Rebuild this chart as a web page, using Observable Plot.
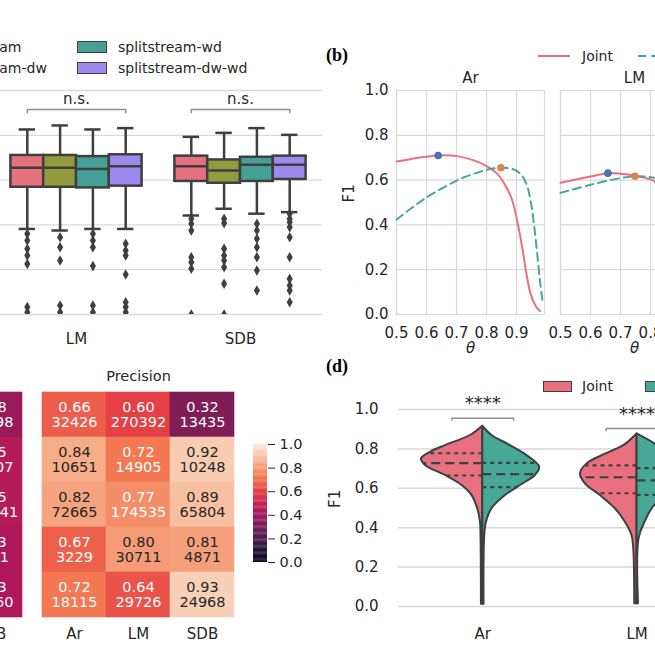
<!DOCTYPE html>
<html><head><meta charset="utf-8">
<script src="https://cdn.jsdelivr.net/npm/d3@7"></script>
<script src="https://cdn.jsdelivr.net/npm/@observablehq/plot@0.6"></script>
<style>
body{margin:0;background:#fff}
#fig{position:relative;width:655px;height:655px;overflow:hidden;background:#fff;font-family:'DejaVu Sans',sans-serif;color:#262626}
.abs{position:absolute}
.lbl{position:absolute;white-space:nowrap;font-size:14px;line-height:16px;color:#262626}
.panel{position:absolute;font-family:'Liberation Serif',serif;font-weight:bold;font-size:18px;line-height:20px;color:#000}
.sw{position:absolute;box-sizing:border-box;border:1.5px solid #3f3f3f}
</style></head><body><div id="fig"></div>
<script>
// ================= DATA =================
// (a) box plots
const boxGroups = ["Ar", "LM", "SDB"];
const methods = ["splitstream", "splitstream-dw", "splitstream-wd", "splitstream-dw-wd"];
const methodColors = ["#e5717f", "#939c3d", "#45a196", "#9e8aee"];
// [lower whisker, Q1, median, Q3, upper whisker]
const boxStatsLM = [
  [0.382, 0.568, 0.655, 0.710, 0.826],
  [0.375, 0.568, 0.655, 0.710, 0.844],
  [0.382, 0.565, 0.650, 0.705, 0.826],
  [0.382, 0.573, 0.662, 0.713, 0.832]];
const boxStatsSDB = [
  [0.442, 0.594, 0.662, 0.707, 0.793],
  [0.472, 0.586, 0.643, 0.690, 0.811],
  [0.450, 0.594, 0.668, 0.702, 0.832],
  [0.457, 0.603, 0.668, 0.707, 0.802]];
const outliersLM = [
  [0.360, 0.330, 0.293, 0.263, 0.226, 0.033, 0.010],
  [0.345, 0.300, 0.241, 0.040, 0.010],
  [0.360, 0.330, 0.300, 0.216, 0.040, 0.010],
  [0.316, 0.286, 0.263, 0.179, 0.055, 0.033, 0.010]];
const outliersSDB = [
  [0.427, 0.405, 0.375, 0.256, 0.233, 0.204, 0.0],
  [0.427, 0.408, 0.293, 0.263, 0.241, 0.211, 0.137, 0.0],
  [0.405, 0.375, 0.338, 0.300, 0.256, 0.196, 0.107],
  [0.450, 0.427, 0.412, 0.390, 0.345, 0.256, 0.159, 0.129, 0.107, 0.055]];
const boxSignif = ["n.s.", "n.s."];
const f1Ticks = [0, 0.2, 0.4, 0.6, 0.8, 1.0];

// (b) F1 vs theta
const lineSeries = ["Joint", "Separate"];
const thetaTicks = [0.5, 0.6, 0.7, 0.8, 0.9];
const thetaJointAr = [0.5, 0.569, 0.639, 0.702, 0.758, 0.802, 0.836, 0.863, 0.886, 0.902, 0.919, 0.933, 0.947, 0.963, 0.978];
const f1JointAr    = [0.683, 0.699, 0.710, 0.707, 0.688, 0.661, 0.628, 0.576, 0.509, 0.420, 0.300, 0.182, 0.092, 0.040, 0.015];
const thetaSepAr   = [0.5, 0.547, 0.602, 0.658, 0.713, 0.769, 0.813, 0.847, 0.886, 0.913, 0.933, 0.947, 0.958, 0.969, 0.978, 0.986];
const f1SepAr      = [0.423, 0.472, 0.524, 0.568, 0.606, 0.633, 0.650, 0.655, 0.650, 0.628, 0.583, 0.509, 0.405, 0.271, 0.152, 0.066];
const thetaJointLM = [0.5, 0.6, 0.658, 0.7, 0.748, 0.8, 0.817];
const f1JointLM    = [0.588, 0.616, 0.631, 0.628, 0.619, 0.603, 0.590];
const thetaSepLM   = [0.5, 0.6, 0.7, 0.748, 0.8, 0.817];
const f1SepLM      = [0.543, 0.579, 0.609, 0.617, 0.613, 0.609];
// best points [theta, F1]
const bestJointAr = [0.639, 0.710], bestSepAr = [0.848, 0.655];
const bestJointLM = [0.658, 0.631], bestSepLM = [0.748, 0.617];

// (c) heatmaps
const heatCols = ["Ar", "LM", "SDB"];
const heatRows = ["r1", "r2", "r3", "r4", "r5"];
const precisionVals = [[0.66, 0.60, 0.32], [0.84, 0.72, 0.92], [0.82, 0.77, 0.89], [0.67, 0.80, 0.81], [0.72, 0.64, 0.93]];
const precisionCounts = [[32426, 270392, 13435], [10651, 14905, 10248], [72665, 174535, 65804], [3229, 30711, 4871], [18115, 29726, 24968]];
const recallSDBVals = [0.38, 0.45, 0.45, 0.43, 0.43];
const recallSDBCounts = [21598, 20107, 100341, 5121, 26460];
const colorbarTicks = [0, 0.2, 0.4, 0.6, 0.8, 1.0];
const rocketStops = ["#03051a", "#35193e", "#701f57", "#ad1759", "#e13342", "#f37651", "#f6b48f", "#faebdd"];

// (d) split violins: [F1, relative half-width]
const violinCats = ["Ar", "LM", "SDB"];
const violinJointAr = [[0.915,0],[0.868,0.199],[0.817,0.604],[0.783,0.846],[0.750,0.992],[0.716,0.927],[0.665,0.604],[0.614,0.335],[0.563,0.173],[0.496,0.081],[0.428,0.037],[0.36,0.028],[0.012,0.021]];
const violinSepAr   = [[0.915,0],[0.868,0.150],[0.817,0.448],[0.766,0.717],[0.707,0.922],[0.665,0.853],[0.614,0.610],[0.563,0.367],[0.496,0.150],[0.428,0.060],[0.36,0.032],[0.012,0.021]];
const violinJointLM = [[0.876,0],[0.817,0.215],[0.766,0.566],[0.724,0.809],[0.673,0.917],[0.623,0.837],[0.563,0.594],[0.496,0.351],[0.428,0.189],[0.36,0.081],[0.293,0.053],[0.014,0.037]];
const violinSepLM   = [[0.876,0],[0.826,0.29],[0.77,0.58],[0.70,0.84],[0.64,0.89],[0.58,0.68],[0.513,0.29],[0.428,0.13],[0.343,0.032],[0.014,0.024]];
// [Q1, median, Q3]
const quartJointAr = [0.665, 0.728, 0.778], quartSepAr = [0.606, 0.672, 0.729];
const quartJointLM = [0.575, 0.656, 0.716], quartSepLM = [0.567, 0.640, 0.702];
const violinSignif = ["****", "****"];

// ================= RENDER =================
const fig = document.getElementById("fig");
const INK = "#262626", EDGE = "#3f3f3f", GRID = "#d9d9d9";
const PINK = "#e8707f", TEAL = "#47a898";
const STYLE = "background:transparent;max-width:none;overflow:visible;font-family:'DejaVu Sans',sans-serif;font-size:15px;color:#262626";

function mount(node, left, top) {
  const d = document.createElement("div");
  d.className = "abs"; d.style.left = left + "px"; d.style.top = top + "px";
  d.appendChild(node); fig.appendChild(d);
}
function label(txt, x, yc, cls = "lbl") {
  const d = document.createElement("div");
  d.className = cls; d.textContent = txt;
  d.style.left = x + "px"; d.style.top = (yc - (cls === "panel" ? 10 : 8)) + "px";
  fig.appendChild(d);
}
function swatch(x, y, w, h, color) {
  const d = document.createElement("div");
  d.className = "sw"; Object.assign(d.style, {left: x + "px", top: y + "px", width: w + "px", height: h + "px", background: color});
  fig.appendChild(d);
}
function lineSwatch(x, yc, color, dash) {
  const svg = d3.create("svg").attr("width", 34).attr("height", 6).style("position", "absolute")
    .style("left", x + "px").style("top", (yc - 3) + "px");
  svg.append("line").attr("x1", 1).attr("x2", 33).attr("y1", 3).attr("y2", 3)
    .attr("stroke", color).attr("stroke-width", 2).attr("stroke-dasharray", dash || null);
  fig.appendChild(svg.node());
}

// ---------- (a) box plots ----------
{
  const offsets = [-0.3, -0.1, 0.1, 0.3];
  const sets = [{g: 1, stats: boxStatsLM, outs: outliersLM}, {g: 2, stats: boxStatsSDB, outs: outliersSDB}];
  const boxes = [], outs = [], brackets = [], sig = [];
  sets.forEach((s, k) => {
    s.stats.forEach((st, m) => {
      const x = s.g + offsets[m];
      boxes.push({x, method: methods[m], lo: st[0], q1: st[1], med: st[2], q3: st[3], hi: st[4]});
      s.outs[m].forEach(v => outs.push({x, y: v}));
    });
    const xa = s.g + offsets[0], xb = s.g + offsets[3];
    brackets.push({g: k, x: xa, y: 0.902}, {g: k, x: xa, y: 0.915}, {g: k, x: xb, y: 0.915}, {g: k, x: xb, y: 0.902});
    sig.push({x: s.g, y: 0.962, t: boxSignif[k]});
  });
  const plot = Plot.plot({
    width: 552, height: 294, marginLeft: 50, marginRight: 10, marginTop: 30, marginBottom: 40,
    style: STYLE,
    x: {domain: [-0.5, 2.5]}, y: {domain: [0, 1]},
    color: {domain: methods, range: methodColors},
    marks: [
      Plot.ruleY(f1Ticks, {stroke: GRID, strokeWidth: 1.3}),
      Plot.ruleX(boxes, {x: "x", y1: "lo", y2: "q1", stroke: EDGE, strokeWidth: 2.5}),
      Plot.ruleX(boxes, {x: "x", y1: "q3", y2: "hi", stroke: EDGE, strokeWidth: 2.5}),
      Plot.ruleY(boxes, {y: "hi", x1: d => d.x - 0.05, x2: d => d.x + 0.05, stroke: EDGE, strokeWidth: 2.5}),
      Plot.ruleY(boxes, {y: "lo", x1: d => d.x - 0.05, x2: d => d.x + 0.05, stroke: EDGE, strokeWidth: 2.5}),
      Plot.rect(boxes, {x1: d => d.x - 0.1, x2: d => d.x + 0.1, y1: "q1", y2: "q3", fill: "method", stroke: EDGE, strokeWidth: 2.5}),
      Plot.ruleY(boxes, {y: "med", x1: d => d.x - 0.1, x2: d => d.x + 0.1, stroke: EDGE, strokeWidth: 2.5}),
      Plot.dot(outs, {x: "x", y: "y", symbol: "diamond", r: 3.2, fill: EDGE, stroke: "none", clip: true}),
      Plot.line(brackets, {x: "x", y: "y", z: "g", stroke: "#8f8f8f", strokeWidth: 1.5}),
      Plot.text(sig, {x: "x", y: "y", text: "t", fontSize: 15}),
      Plot.axisX({ticks: [0, 1, 2], tickFormat: i => boxGroups[i], tickSize: 0, tickPadding: 19, label: null}),
      Plot.axisY({ticks: f1Ticks, tickFormat: ".1f", tickSize: 0, tickPadding: 8, label: null})
    ]
  });
  mount(plot, -220, 60);
  // legend (2 x 2)
  const lx = [-98, 77], ly = [47, 68];
  methods.forEach((m, i) => {
    const c = Math.floor(i / 2), r = i % 2;
    swatch(lx[c], ly[r] - 6, 30, 12, methodColors[i]);
    label(m, lx[c] + 41, ly[r]);
  });
}

// ---------- (b) F1 vs theta ----------
function thetaPanel(name, tj, fj, ts, fs, bj, bs, showY, marginLeft, width) {
  const joint = tj.map((t, i) => ({t, f: fj[i]}));
  const sep = ts.map((t, i) => ({t, f: fs[i]}));
  const marks = [
    Plot.ruleX(thetaTicks, {stroke: GRID, strokeWidth: 1.2}),
    Plot.ruleY(f1Ticks, {stroke: GRID, strokeWidth: 1.2}),
    Plot.frame({stroke: GRID, strokeWidth: 1.2}),
    Plot.line(joint, {x: "t", y: "f", stroke: PINK, strokeWidth: 2, curve: "catmull-rom"}),
    Plot.line(sep, {x: "t", y: "f", stroke: TEAL, strokeWidth: 2, strokeDasharray: "8,5", curve: "catmull-rom"}),
    Plot.dot([bj], {x: d => d[0], y: d => d[1], r: 3.8, fill: "#4c72b0"}),
    Plot.dot([bs], {x: d => d[0], y: d => d[1], r: 3.8, fill: "#dd8452"}),
    Plot.axisX({ticks: thetaTicks, tickFormat: ".1f", tickSize: 0, tickPadding: 13, label: null}),
    Plot.text([name], {frameAnchor: "top", lineAnchor: "middle", dy: -12, fontSize: 15}),
    Plot.text(["θ"], {frameAnchor: "bottom", lineAnchor: "middle", dy: 34, fontSize: 15, fontStyle: "italic"})
  ];
  if (showY) {
    marks.push(Plot.axisY({ticks: f1Ticks, tickFormat: ".1f", tickSize: 0, tickPadding: 8, label: null}));
    marks.push(Plot.text(["F1"], {frameAnchor: "left", dx: -47, rotate: -90, fontSize: 15}));
  }
  return Plot.plot({
    width, height: 304, marginLeft, marginRight: width - marginLeft - 148, marginTop: 30, marginBottom: 50,
    style: STYLE, x: {domain: [0.5, 0.9933], axis: null}, y: {domain: [0, 1], axis: null}, marks
  });
}
mount(thetaPanel("Ar", thetaJointAr, f1JointAr, thetaSepAr, f1SepAr, bestJointAr, bestSepAr, true, 66, 222), 330, 60);
mount(thetaPanel("LM", thetaJointLM, f1JointLM, thetaSepLM, f1SepLM, bestJointLM, bestSepLM, false, 10, 168), 550, 60);
label("(b)", 326, 55, "panel");
lineSwatch(537, 56, PINK);
label(lineSeries[0], 582, 56);
lineSwatch(637, 56, TEAL, "8,5");
label(lineSeries[1], 682, 56);

// ---------- (c) heatmaps ----------
const rocket = {type: "linear", domain: rocketStops.map((_, i) => i / (rocketStops.length - 1)), range: rocketStops, interpolate: "rgb"};
const rocketScale = d3.scaleLinear().domain(rocket.domain).range(rocketStops).interpolate(d3.interpolateRgb).clamp(true);
function isLight(v) {
  const c = d3.rgb(rocketScale(v));
  const lin = u => { u /= 255; return u <= 0.03928 ? u / 12.92 : Math.pow((u + 0.055) / 1.055, 2.4); };
  return 0.2126 * lin(c.r) + 0.7152 * lin(c.g) + 0.0722 * lin(c.b) > 0.408;
}
function heatmap(title, cells) {
  const txt = d => d.v.toFixed(2) + "\n" + d.n;
  return Plot.plot({
    width: 244, height: 305, marginLeft: 42, marginRight: 10, marginTop: 40, marginBottom: 36,
    style: STYLE,
    x: {domain: heatCols, padding: 0}, y: {domain: heatRows, padding: 0, axis: null},
    color: rocket,
    marks: [
      Plot.cell(cells, {x: "col", y: "row", fill: "v", stroke: "v", strokeWidth: 0.6, inset: 0}),
      Plot.text(cells.filter(d => !isLight(d.v)), {x: "col", y: "row", text: txt, fill: "white", fontSize: 14.5, lineHeight: 1.03}),
      Plot.text(cells.filter(d => isLight(d.v)), {x: "col", y: "row", text: txt, fill: INK, fontSize: 14.5, lineHeight: 1.03}),
      Plot.text([title], {frameAnchor: "top", lineAnchor: "middle", dy: -14, fontSize: 14.5}),
      Plot.axisX({tickSize: 0, tickPadding: 9, label: null})
    ]
  });
}
const precisionCells = [];
heatRows.forEach((r, i) => heatCols.forEach((c, j) => precisionCells.push({row: r, col: c, v: precisionVals[i][j], n: precisionCounts[i][j]})));
const recallCells = heatRows.map((r, i) => ({row: r, col: "SDB", v: recallSDBVals[i], n: recallSDBCounts[i]}));
mount(heatmap("Recall", recallCells), -212, 350);
mount(heatmap("Precision", precisionCells), 0, 350);
// colorbar
mount(Plot.plot({
  width: 64, height: 138, marginLeft: 10, marginRight: 40, marginTop: 10, marginBottom: 10,
  style: STYLE, x: {domain: [0, 1], axis: null}, y: {domain: [0, 1], axis: null}, color: rocket,
  marks: [
    Plot.rect(d3.range(0, 1, 0.01), {x1: 0, x2: 1, y1: d => d, y2: d => Math.min(1, d + 0.012), fill: d => d + 0.005}),
    Plot.axisY({anchor: "right", ticks: colorbarTicks, tickFormat: ".1f", tickSize: 7, tickPadding: 5, label: null, fontSize: 14.5})
  ]
}), 243, 434);

// ---------- (d) split violins ----------
{
  const half = 0.4;
  const widthAt = (prof, v) => {
    for (let i = 0; i < prof.length - 1; i++) {
      const [fa, wa] = prof[i], [fb, wb] = prof[i + 1];
      if (v <= fa && v >= fb) return wa + (wb - wa) * (fa - v) / (fa - fb);
    }
    return 0;
  };
  const sides = [
    {i: 0, side: -1, prof: violinJointAr, q: quartJointAr, fill: PINK},
    {i: 0, side: 1, prof: violinSepAr, q: quartSepAr, fill: TEAL},
    {i: 1, side: -1, prof: violinJointLM, q: quartJointLM, fill: PINK},
    {i: 1, side: 1, prof: violinSepLM, q: quartSepLM, fill: TEAL}
  ];
  const marks = [Plot.ruleY(f1Ticks, {stroke: GRID, strokeWidth: 1.5})];
  sides.forEach(s => {
    const rows = s.prof.map(([f, w]) => ({f, a: s.i, b: s.i + s.side * w * half}));
    marks.push(Plot.areaX(rows, {y: "f", x1: "a", x2: "b", fill: s.fill, stroke: EDGE, strokeWidth: 2, strokeLinejoin: "round", curve: "catmull-rom"}));
  });
  sides.forEach(s => {
    const ql = s.q.map((v, k) => ({y: v, k, a: s.i, b: s.i + s.side * widthAt(s.prof, v) * half}));
    marks.push(Plot.ruleY(ql.filter(d => d.k !== 1), {y: "y", x1: "a", x2: "b", stroke: EDGE, strokeWidth: 2.2, strokeDasharray: "4,4"}));
    marks.push(Plot.ruleY(ql.filter(d => d.k === 1), {y: "y", x1: "a", x2: "b", stroke: EDGE, strokeWidth: 2.2, strokeDasharray: "9,5"}));
  });
  const brk = [
    {g: 0, x: -0.2, y: 0.945}, {g: 0, x: -0.2, y: 0.956}, {g: 0, x: 0.2, y: 0.956}, {g: 0, x: 0.2, y: 0.945},
    {g: 1, x: 0.8, y: 0.893}, {g: 1, x: 0.8, y: 0.904}, {g: 1, x: 1.2, y: 0.904}, {g: 1, x: 1.2, y: 0.893}];
  marks.push(Plot.line(brk, {x: "x", y: "y", z: "g", stroke: "#8f8f8f", strokeWidth: 1.5}));
  marks.push(Plot.text([{x: 0, y: 1.03, t: violinSignif[0]}, {x: 1, y: 0.978, t: violinSignif[1]}], {x: "x", y: "y", text: "t", fontSize: 18}));
  marks.push(Plot.axisX({ticks: [0, 1, 2], tickFormat: i => violinCats[i], tickSize: 0, tickPadding: 22, label: null}));
  marks.push(Plot.axisY({ticks: f1Ticks, tickFormat: ".1f", tickSize: 0, tickPadding: 20, label: null}));
  marks.push(Plot.text(["F1"], {frameAnchor: "left", dx: -63, rotate: -90, fontSize: 15}));
  mount(Plot.plot({
    width: 538, height: 277, marginLeft: 58, marginRight: 10, marginTop: 40, marginBottom: 40,
    style: STYLE, x: {domain: [-0.546, 2.5], axis: null}, y: {domain: [0, 1], axis: null}, marks
  }), 340, 369);
  label("(d)", 326, 366, "panel");
  swatch(543, 381, 29, 11, PINK);
  label(lineSeries[0], 582, 386);
  swatch(645, 381, 29, 11, TEAL);
  label(lineSeries[1], 684, 386);
}
</script></body></html>
